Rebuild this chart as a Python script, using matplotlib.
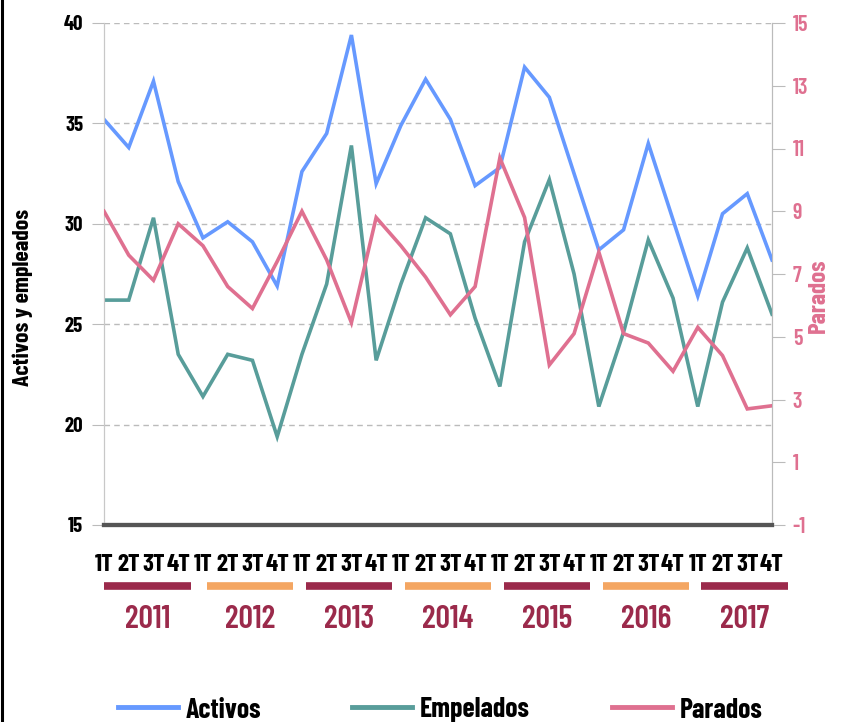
import matplotlib
matplotlib.use("Agg")
import matplotlib.pyplot as plt
from matplotlib.lines import Line2D
from matplotlib.transforms import blended_transform_factory
import numpy as np

plt.rcParams['font.family'] = ['Barlow Condensed', 'DejaVu Sans']
plt.rcParams['font.weight'] = 'bold'

# data
quarters = ['1T', '2T', '3T', '4T'] * 7
years = ['2011', '2012', '2013', '2014', '2015', '2016', '2017']
activos = [35.2, 33.8, 37.1, 32.1, 29.3, 30.1, 29.1, 26.9, 32.6, 34.5, 39.4, 32.0, 34.9, 37.2,
           35.2, 31.9, 32.8, 37.8, 36.3, 32.5, 28.7, 29.7, 34.0, 30.2, 26.4, 30.5, 31.5, 28.2]
empleados = [26.2, 26.2, 30.3, 23.5, 21.4, 23.5, 23.2, 19.4, 23.5, 27.0, 33.9, 23.2, 27.0, 30.3,
             29.5, 25.3, 21.9, 29.1, 32.2, 27.5, 20.9, 24.6, 29.2, 26.3, 20.9, 26.1, 28.8, 25.5]
parados = [9.0, 7.6, 6.8, 8.6, 7.9, 6.6, 5.9, 7.4, 9.0, 7.45, 5.45, 8.8, 7.9, 6.9,
           5.7, 6.6, 10.7, 8.8, 4.1, 5.1, 7.7, 5.1, 4.8, 3.9, 5.3, 4.4, 2.7, 2.8]

c_act = '#6699ff'
c_emp = '#589d9a'
c_par = '#df7090'
c_maroon = '#9b2a4b'
c_orange = '#f4a662'

W, H = 863, 722
fig = plt.figure(figsize=(W / 100, H / 100), dpi=100)
ax = fig.add_axes([104 / W, 1 - 525 / H, (772 - 104) / W, (525 - 23) / H])
ax2 = ax.twinx()

x = np.arange(len(activos))
ax.plot(x, activos, color=c_act, lw=2.6, solid_joinstyle='miter', zorder=3)
ax.plot(x, empleados, color=c_emp, lw=2.6, solid_joinstyle='miter', zorder=3)
ax2.plot(x, parados, color=c_par, lw=2.6, solid_joinstyle='miter', zorder=3)

ax.set_xlim(0, len(x) - 1)
ax.set_ylim(15, 40)
ax.set_yticks(range(15, 41, 5))
ax2.set_ylim(-1, 15)
ax2.set_yticks(range(-1, 16, 2))
ax2.set_yticklabels([str(v) for v in range(-1, 16, 2)])

for v in range(20, 41, 5):
    ax.axhline(v, color='#bbbbbb', lw=1, ls=(0, (4, 3)), zorder=1)

ax.set_xticks(x)
ax.set_xticklabels(quarters, fontsize=18, fontweight='bold')
ax.tick_params(axis='x', length=0, pad=21)
ax.tick_params(axis='y', length=9, color='#bbbbbb', labelsize=15, pad=6)
ax2.tick_params(axis='y', length=9, color='#bbbbbb', labelsize=16, pad=6, labelcolor=c_par)
for lab in ax2.get_yticklabels():
    lab.set_fontweight(600)

for a in (ax, ax2):
    a.spines['top'].set_visible(False)
    a.spines['left'].set_color('#c8c8c8')
    a.spines['right'].set_color('#bbbbbb')
    a.spines['bottom'].set_color('#555555')
    a.spines['bottom'].set_linewidth(3)
    a.spines['bottom'].set_zorder(5)

ax.set_ylabel('Activos y empleados', fontsize=17, fontweight='bold', color='black')
ax.yaxis.set_label_coords(-71 / (772 - 104), (525 - 297) / (525 - 23))
ax2.set_ylabel('Parados', fontsize=18, fontweight='bold', color=c_par)
ax2.yaxis.set_label_coords(1 + 36 / (772 - 104), (525 - 296) / (525 - 23))

# year bars under the quarter labels
tr = blended_transform_factory(ax.transData, fig.transFigure)
for k, yr in enumerate(years):
    start = 4 * k + (0.15 if k else 0)
    col = c_maroon if k % 2 == 0 else c_orange
    ax.plot([start, start + 3.5], [1 - 586 / H] * 2, transform=tr, color=col, lw=5.5,
            solid_capstyle='butt', clip_on=False)
    ax.text(start + 1.75, 1 - 619 / H, yr, transform=tr, ha='center', va='center',
            fontsize=23, fontweight=600, color=c_maroon)

# legend drawn by hand at the bottom
leg = [('Activos', c_act, 118), ('Empelados', c_emp, 352), ('Parados', c_par, 612)]
ly = 1 - 707 / H
for name, col, px in leg:
    fig.add_artist(Line2D([px / W, (px + 60) / W], [ly, ly], color=col, lw=3.5))
    fig.text((px + 68) / W, ly - 3 / H, name, ha='left', va='center', fontsize=20,
             fontweight='bold', color='black')

# left border line
fig.add_artist(Line2D([1.5 / W, 1.5 / W], [0, 1], color='black', lw=2.2))

fig.savefig('out.png', dpi=100)
